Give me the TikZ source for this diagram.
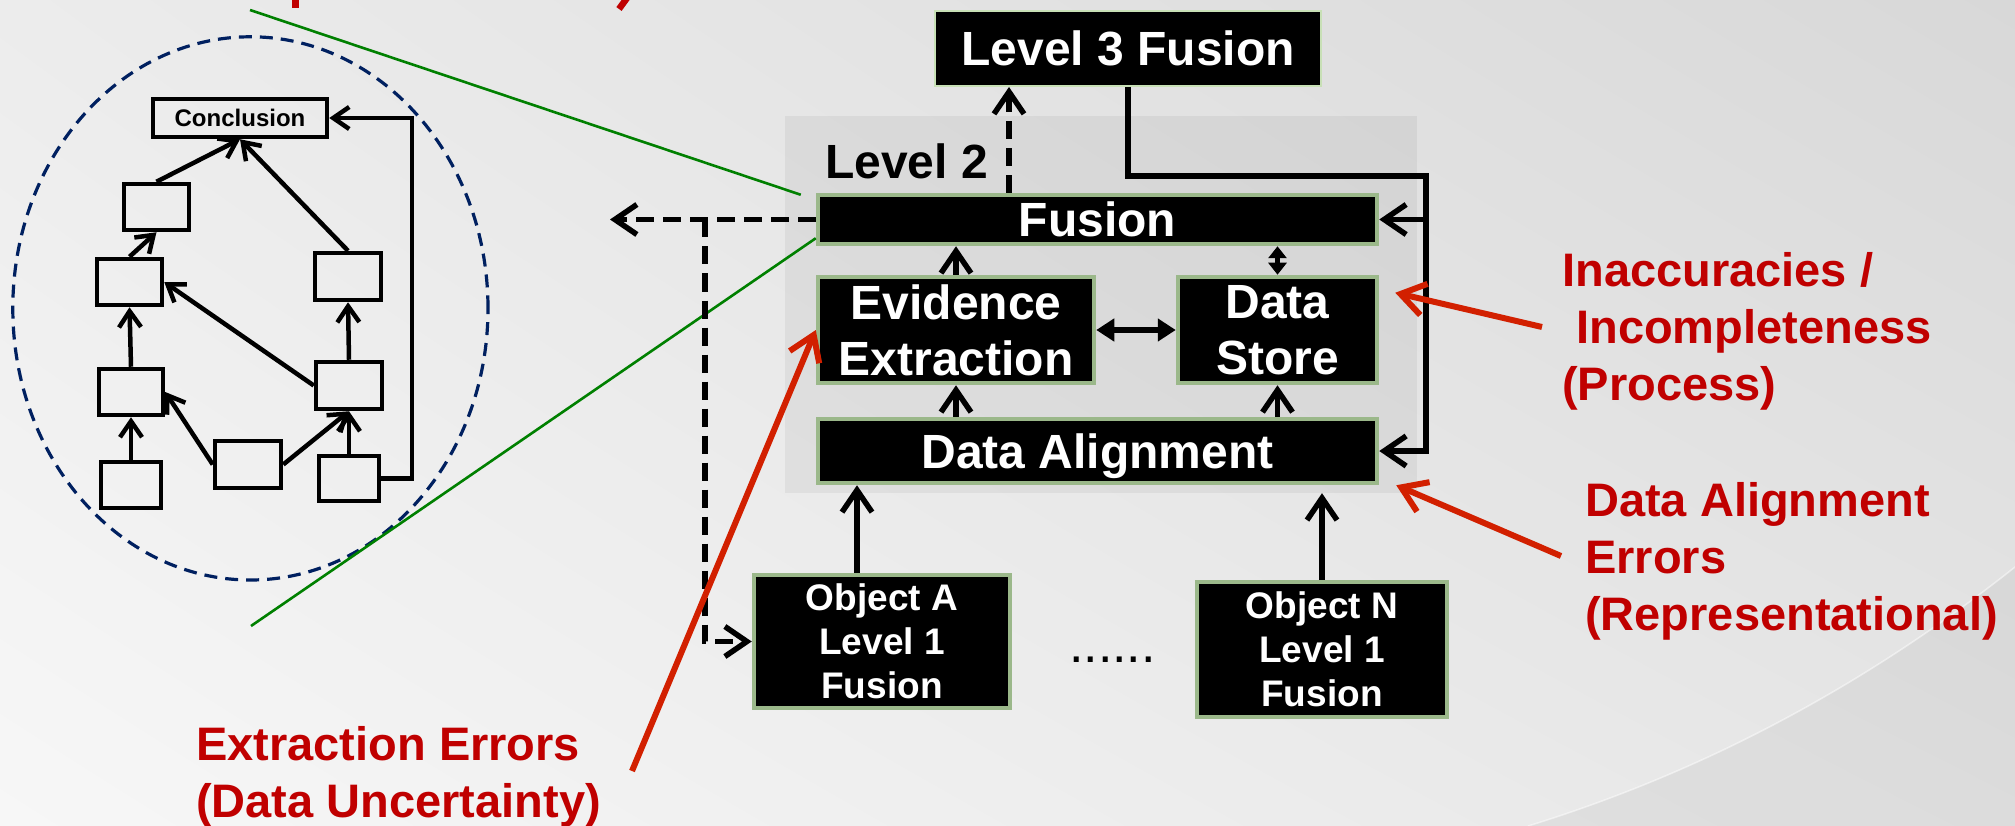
\documentclass[tikz,border=0pt]{standalone}
\usepackage{fontspec}
\setmainfont{Liberation Sans}
\usetikzlibrary{arrows.meta,calc,shadings}

\definecolor{sage}{RGB}{155,184,138}
\definecolor{palesage}{RGB}{200,224,182}
\definecolor{navy}{RGB}{0,32,96}
\definecolor{leafgreen}{RGB}{0,128,0}
\definecolor{notered}{RGB}{192,0,0}
\definecolor{pointerred}{RGB}{210,32,0}
\definecolor{bgul}{RGB}{236,236,236}
\definecolor{bgur}{RGB}{216,216,216}
\definecolor{bgll}{RGB}{247,247,247}
\definecolor{bglr}{RGB}{230,230,230}

\begin{document}
\begin{tikzpicture}[x=1pt,y=-1pt,
  blackbox/.style={draw=sage, line width=4.5pt, fill=black, text=white, inner sep=0pt,
    align=center, font=\bfseries\fontsize{48}{56}\selectfont},
  objbox/.style={blackbox, font=\bfseries\fontsize{37}{44}\selectfont},
  gbox/.style={draw=black, line width=4.5pt, inner sep=0pt, minimum height=46pt},
  flow/.style={line width=5.5pt, -{Straight Barb[length=22pt,width=30pt]}},
  dashflow/.style={flow, dash pattern=on 18pt off 9pt},
  both/.style={line width=5.5pt, {Triangle[length=18pt,width=22pt]}-{Triangle[length=18pt,width=22pt]}},
  bothshort/.style={line width=5.5pt, {Triangle[length=12pt,width=18pt]}-{Triangle[length=12pt,width=18pt]}},
  gflow/.style={line width=4.5pt, -{Straight Barb[length=16pt,width=22pt]}},
  pointer/.style={draw=pointerred, line width=6pt, -{Straight Barb[length=24pt,width=32pt]}},
  note/.style={text=notered, inner sep=0pt, align=left, anchor=north west,
    font=\bfseries\fontsize{47}{57}\selectfont},
  zoomline/.style={draw=leafgreen, line width=2.6pt},
]
\useasboundingbox (0,0) rectangle (2015,826);

% slide background with its swoosh at the lower right
\shade[upper left=bgul, upper right=bgur, lower left=bgll, lower right=bglr]
  (0,0) rectangle (2015,826);
\fill[black, fill opacity=0.045]
  (1528,826) .. controls (1703,772) and (1865,686) .. (2015,567) -- (2015,826) -- cycle;
\draw[white, opacity=0.5, line width=1.5pt]
  (1528,826) .. controls (1703,772) and (1865,686) .. (2015,567);

% descenders of the heading line above
\fill[notered] (291.5,0) rectangle (299,8);
\draw[notered, line width=6.5pt] (627,-2) -- (619,9);

% Level 2 panel
\node[fill=black, fill opacity=0.05, inner sep=0pt, minimum width=632pt,
  minimum height=377pt] (panel) at (1101,304.5) {};
\node[anchor=base west, inner sep=0pt, font=\bfseries\fontsize{48}{56}\selectfont]
  (lvltwo) at (825,179) {Level 2};

% boxes of the fusion hierarchy
\node[blackbox, draw=palesage, line width=2pt, minimum width=386pt, minimum height=75pt]
  (l3) at (1128,48.5) {Level 3 Fusion};
\node[blackbox, minimum width=559pt, minimum height=49pt, text depth=0pt]
  (fusion) at (1097.5,219.5) {Fusion};
\node[blackbox, minimum width=276pt, minimum height=106pt]
  (evid) at (956,330) {Evidence\\Extraction};
\node[blackbox, minimum width=199pt, minimum height=106pt]
  (store) at (1277.5,330) {Data\\Store};
\node[blackbox, minimum width=559pt, minimum height=64pt, text depth=0pt]
  (align) at (1097.5,451) {Data Alignment};
\node[objbox, minimum width=256pt, minimum height=133pt]
  (objA) at (882,641.5) {Object A\\Level 1\\Fusion};
\node[objbox, minimum width=250pt, minimum height=135pt]
  (objN) at (1322,649.5) {Object N\\Level 1\\Fusion};
\node[anchor=base, inner sep=0pt, font=\fontsize{52}{56}\selectfont]
  (dots) at (1112.5,662) {......};

% magnified view of the inference graph
\draw[navy, line width=3.2pt, dash pattern=on 13pt off 8pt]
  (250.4,308.4) ellipse [x radius=237.6pt, y radius=271.6pt];
\coordinate (zoomtop) at (250,10);
\coordinate (zoombot) at (251,626);
\draw[zoomline] (zoomtop) -- ($(fusion.north west)+(-15,2)$);
\draw[zoomline] (zoombot) -- ($(fusion.south west)+(0,-8)$);

\node[gbox, minimum width=174pt, minimum height=38pt,
  font=\bfseries\fontsize{24}{28}\selectfont] (concl) at (240,118) {Conclusion};
\node[gbox, minimum width=65pt] (b1) at (156.5,207) {};
\node[gbox, minimum width=65pt] (b2) at (129.5,282) {};
\node[gbox, minimum width=64pt] (b3) at (131,392) {};
\node[gbox, minimum width=60pt] (b4) at (131,485) {};
\node[gbox, minimum width=66pt, minimum height=47pt] (b5) at (248,464.5) {};
\node[gbox, minimum width=60pt, minimum height=45pt] (b6) at (349,478.5) {};
\node[gbox, minimum width=66pt, minimum height=47pt] (b7) at (349,385.5) {};
\node[gbox, minimum width=66pt, minimum height=47pt] (b8) at (348,276.5) {};
\coordinate (fbk) at (412,0);

\draw[gflow] (b1.north) -- (concl.south);
\draw[gflow] (b8.north) -- (concl.south);
\draw[gflow] (b6.east) -- (b6.east -| fbk) |- (concl.east);
\draw[gflow] (b2.north) -- (b1.south);
\draw[gflow] (b3.north) -- (b2.south);
\draw[gflow] (b4.north) -- (b3.south);
\draw[gflow] (b5.west) -- (b3.east);
\draw[gflow] (b5.east) -- (b7.south);
\draw[gflow] (b6.north) -- (b7.south);
\draw[gflow] (b7.west) -- (b2.east);
\draw[gflow] (b7.north) -- (b8.south);

% connectors of the fusion hierarchy
\coordinate (dashx) at (1009,0);
\coordinate (rail) at (1426,176);
\coordinate (outleft) at (610,219.5);
\coordinate (split) at (705,219.5);
\coordinate (aup) at ($(objA.north)+(-25,0)$);

\draw[dashflow] (fusion.north -| dashx) -- (l3.south -| dashx);
\draw[flow] (l3.south) |- (rail) |- (align.east);
\draw[flow] (fusion.east -| rail) -- (fusion.east);
\draw[dashflow] (fusion.west) -- (outleft);
\draw[dashflow] (split) |- (objA.west);
\draw[flow] (evid.north) -- (evid.north |- fusion.south);
\draw[flow] (evid.south |- align.north) -- (evid.south);
\draw[flow] (store.south |- align.north) -- (store.south);
\draw[bothshort] (store.north) -- (store.north |- fusion.south);
\draw[both] (evid.east |- store.west) -- (store.west);
\draw[flow] (aup) -- (aup |- align.south);
\draw[flow] (objN.north) -- (objN.north |- panel.south);

% error annotations
\node[note] (inacc) at (1562,252) {Inaccuracies /\\\hspace*{14pt}Incompleteness\\(Process)};
\node[note] (alignerr) at (1585,482) {Data Alignment\\Errors\\(Representational)};
\node[note] (extrerr) at (196,726) {Extraction Errors\\(Data Uncertainty)};

\coordinate (inacctail) at (1542,327);
\coordinate (aligntail) at (1561,556);
\coordinate (extrtail) at (632,771);
\draw[pointer] (inacctail) -- ($(store.north east)+(16,18)$);
\draw[pointer] (aligntail) -- ($(align.south east)+(17,0)$);
\draw[pointer] (extrtail) -- (evid.west);
\end{tikzpicture}
\end{document}
